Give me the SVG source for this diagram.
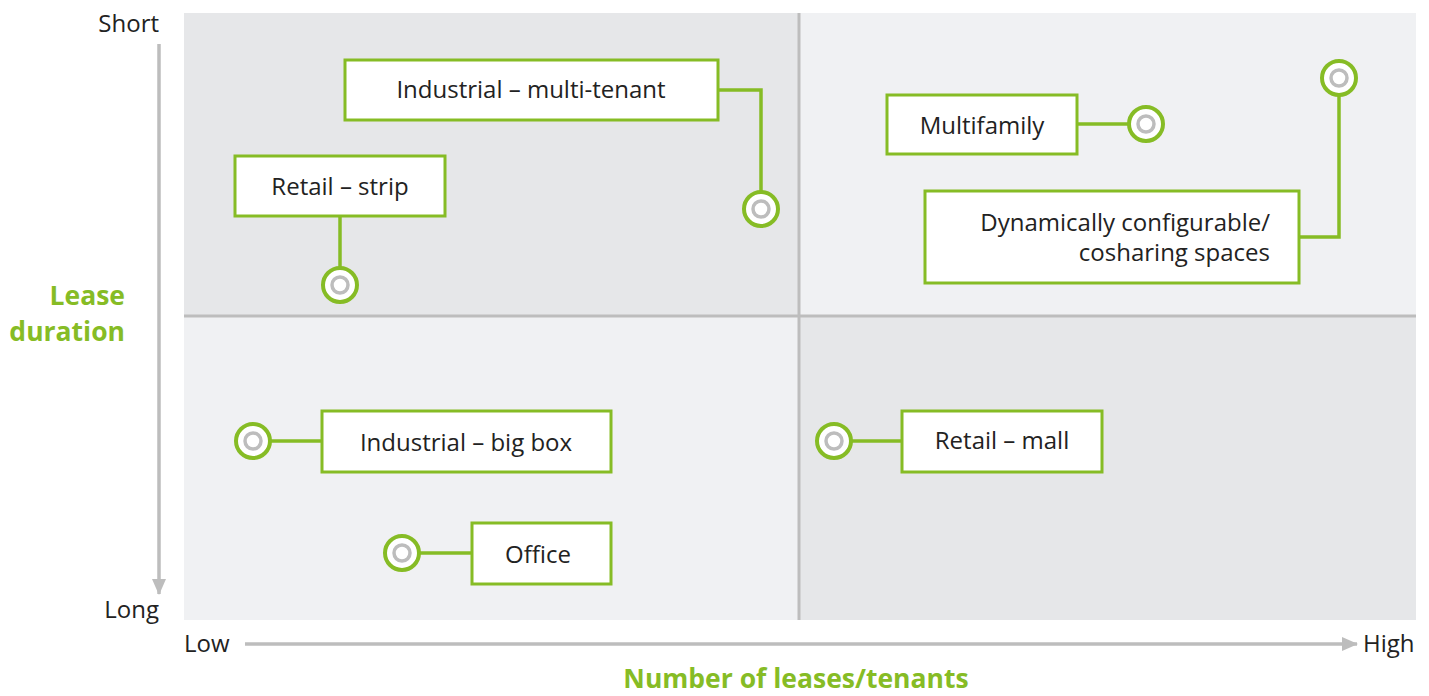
<svg xmlns="http://www.w3.org/2000/svg" width="1429" height="696" viewBox="0 0 1429 696">
<defs>
<style>
.lbl{font-family:"Open Sans","Noto Sans","Liberation Sans",sans-serif;font-size:24px;fill:#222}
.ax{font-family:"Open Sans","Noto Sans","Liberation Sans",sans-serif;font-size:24px;fill:#222}
.ttl{font-family:"Open Sans","Noto Sans","Liberation Sans",sans-serif;font-size:26.5px;font-weight:bold;fill:#86bc25}
.box{fill:#fff;stroke:#86bc25;stroke-width:3}
.con{fill:none;stroke:#86bc25;stroke-width:3.5}
.ring{fill:#fff;stroke:#86bc25;stroke-width:4}
.dot{fill:#fff;stroke:#bdbdbd;stroke-width:3.5}
.div{stroke:#bdbdbd;stroke-width:3}
</style>
<marker id="ahv" markerWidth="16" markerHeight="14" refX="15" refY="7" orient="auto" markerUnits="userSpaceOnUse" viewBox="0 0 16 14">
<path d="M0,0 L16,7 L0,14 z" fill="#bdbdbd"/>
</marker>
</defs>
<rect width="1429" height="696" fill="#fff"/>
<g id="quadrants">
<rect x="184" y="13" width="615" height="303" fill="#e6e7e9"/>
<rect x="799" y="13" width="617" height="303" fill="#f0f1f3"/>
<rect x="184" y="316" width="615" height="304" fill="#f0f1f3"/>
<rect x="799" y="316" width="617" height="304" fill="#e6e7e9"/>
<line class="div" x1="799" y1="13" x2="799" y2="620"/>
<line class="div" x1="184" y1="316" x2="1416" y2="316"/>
</g>
<g id="axes">
<line x1="159" y1="44" x2="159" y2="594" stroke="#bdbdbd" stroke-width="3.5" marker-end="url(#ahv)"/>
<line x1="245" y1="644" x2="1357" y2="644" stroke="#bdbdbd" stroke-width="3.5" marker-end="url(#ahv)"/>
<text class="ax" x="159" y="32" text-anchor="end">Short</text>
<text class="ax" x="159" y="618" text-anchor="end">Long</text>
<text class="ax" x="184" y="652">Low</text>
<text class="ax" x="1363" y="652">High</text>
<text class="ttl" x="125" y="305" text-anchor="end">Lease</text>
<text class="ttl" x="125" y="341" text-anchor="end">duration</text>
<text class="ttl" x="796" y="688" text-anchor="middle">Number of leases/tenants</text>
</g>
<g id="connectors">
<polyline class="con" points="718,90 761,90 761,192"/>
<polyline class="con" points="340,216 340,268"/>
<polyline class="con" points="1077,124 1129,124"/>
<polyline class="con" points="1299,237 1339,237 1339,95"/>
<polyline class="con" points="270,441 322,441"/>
<polyline class="con" points="851,441 902,441"/>
<polyline class="con" points="419,553 472,553"/>
</g>
<g id="node-industrial-multi">
<rect class="box" x="345" y="60" width="373" height="60"/>
<text class="lbl" x="531" y="98" text-anchor="middle">Industrial – multi-tenant</text>
<circle class="ring" cx="761" cy="209" r="17"/><circle class="dot" cx="761" cy="209" r="8"/>
</g>
<g id="node-retail-strip">
<rect class="box" x="235" y="156" width="210" height="60"/>
<text class="lbl" x="340" y="195" text-anchor="middle">Retail – strip</text>
<circle class="ring" cx="340" cy="285" r="17"/><circle class="dot" cx="340" cy="285" r="8"/>
</g>
<g id="node-multifamily">
<rect class="box" x="887" y="95" width="190" height="59"/>
<text class="lbl" x="982" y="134" text-anchor="middle">Multifamily</text>
<circle class="ring" cx="1146" cy="124" r="17"/><circle class="dot" cx="1146" cy="124" r="8"/>
</g>
<g id="node-dynamic">
<rect class="box" x="925" y="191" width="374" height="92"/>
<text class="lbl" x="1270" text-anchor="end"><tspan x="1270" y="231">Dynamically configurable/</tspan><tspan x="1270" y="261">cosharing spaces</tspan></text>
<circle class="ring" cx="1339" cy="78" r="17"/><circle class="dot" cx="1339" cy="78" r="8"/>
</g>
<g id="node-industrial-bigbox">
<rect class="box" x="322" y="411" width="289" height="61"/>
<text class="lbl" x="466" y="451" text-anchor="middle">Industrial – big box</text>
<circle class="ring" cx="253" cy="441" r="17"/><circle class="dot" cx="253" cy="441" r="8"/>
</g>
<g id="node-retail-mall">
<rect class="box" x="902" y="411" width="200" height="61"/>
<text class="lbl" x="1002" y="449" text-anchor="middle">Retail – mall</text>
<circle class="ring" cx="834" cy="441" r="17"/><circle class="dot" cx="834" cy="441" r="8"/>
</g>
<g id="node-office">
<rect class="box" x="472" y="523" width="139" height="61"/>
<text class="lbl" x="538" y="563" text-anchor="middle">Office</text>
<circle class="ring" cx="402" cy="553" r="17"/><circle class="dot" cx="402" cy="553" r="8"/>
</g>
</svg>
